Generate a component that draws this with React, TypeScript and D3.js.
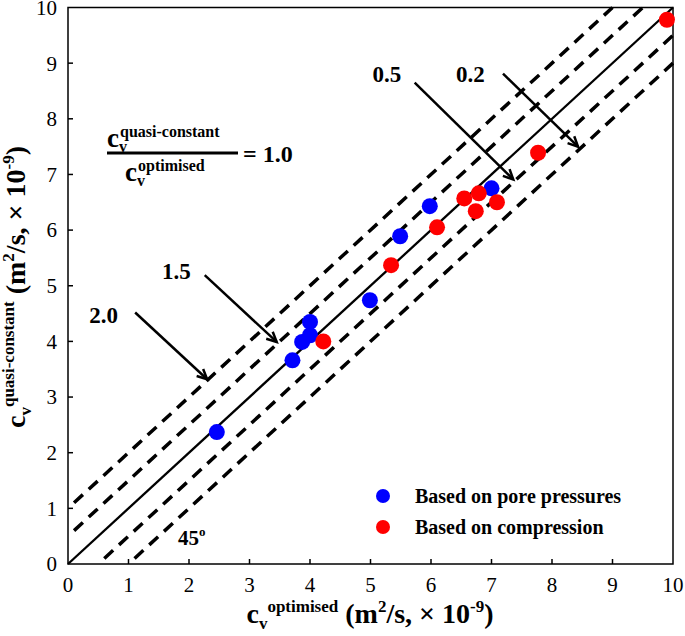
import React from 'react';
import * as d3 from 'd3';

const X_TICKS = [0, 1, 2, 3, 4, 5, 6, 7, 8, 9, 10];
const Y_TICKS = [0, 1, 2, 3, 4, 5, 6, 7, 8, 9, 10];

const PORE_X = [2.46, 3.71, 3.87, 4.0, 4.0, 4.99, 5.49, 5.98, 7.0];
const PORE_Y = [2.37, 3.66, 3.99, 4.11, 4.35, 4.74, 5.89, 6.43, 6.75];

const COMP_X = [4.22, 5.34, 6.1, 6.55, 6.74, 6.79, 7.09, 7.77, 9.9];
const COMP_Y = [4.0, 5.37, 6.05, 6.57, 6.34, 6.66, 6.5, 7.39, 9.78];

const GUIDE_OFFSETS = [1, 0.5, -0.5, -1];

const ARROW_LABELS = ['2.0', '1.5', '0.5', '0.2'];
const ARROW_X0 = [1.11, 2.26, 5.73, 7.19];
const ARROW_Y0 = [4.52, 5.19, 8.65, 8.81];
const ARROW_X1 = [2.3, 3.45, 7.36, 8.43];
const ARROW_Y1 = [3.32, 3.99, 6.91, 7.5];
const LABEL_X = [0.59, 1.79, 5.27, 6.65];
const LABEL_Y = [4.33, 5.13, 8.67, 8.67];

const LEGEND = ['Based on pore pressures', 'Based on compression'];
const COLORS = ['#0000ff', '#ff0000'];

const SERIF = "'Liberation Serif', 'Times New Roman', Times, serif";

export default function App() {
  const W = 685;
  const H = 636;
  const x = d3.scaleLinear().domain([0, 10]).range([68, 673]);
  const y = d3.scaleLinear().domain([0, 10]).range([564, 7.5]);

  const line = d3
    .line<[number, number]>()
    .x((d) => x(d[0]))
    .y((d) => y(d[1]));

  const guides = GUIDE_OFFSETS.map((off) => {
    const x0 = off > 0 ? 0.1 : 0.1 - off;
    const x1 = off > 0 ? 10 - off : 10;
    return line([
      [x0, x0 + off],
      [x1, x1 + off],
    ]) as string;
  });

  const arrows = ARROW_LABELS.map((lab, i) => {
    const px0 = x(ARROW_X0[i]);
    const py0 = y(ARROW_Y0[i]);
    const px1 = x(ARROW_X1[i]);
    const py1 = y(ARROW_Y1[i]);
    const a = Math.atan2(py1 - py0, px1 - px0);
    const L = 11;
    const s = 0.45;
    const h1 = [px1 - L * Math.cos(a - s), py1 - L * Math.sin(a - s)];
    const h2 = [px1 - L * Math.cos(a + s), py1 - L * Math.sin(a + s)];
    return { lab, px0, py0, px1, py1, h1, h2, lx: x(LABEL_X[i]), ly: y(LABEL_Y[i]) };
  });

  return (
    <svg
      width={W}
      height={H}
      style={{ position: 'absolute', left: 0, top: 0, background: '#fff', fontFamily: SERIF }}
    >
      <rect x={0} y={0} width={W} height={H} fill="#fff" />
      {guides.map((d, i) => (
        <path
          key={'g' + i}
          d={d}
          fill="none"
          stroke="#000"
          strokeWidth={3.5}
          strokeDasharray="12 8"
        />
      ))}
      <path
        d={line([
          [0, 0],
          [10, 10],
        ]) as string}
        fill="none"
        stroke="#000"
        strokeWidth={2.3}
      />
      <rect
        x={x(0)}
        y={y(10)}
        width={x(10) - x(0)}
        height={y(0) - y(10)}
        fill="none"
        stroke="#000"
        strokeWidth={1.5}
      />
      {X_TICKS.map((t) => (
        <g key={'xt' + t}>
          {t > 0 && t < 10 && (
            <line x1={x(t)} x2={x(t)} y1={y(0)} y2={y(0) - 5} stroke="#000" strokeWidth={1.5} />
          )}
          <text x={x(t)} y={592} textAnchor="middle" fontSize={21}>
            {t}
          </text>
        </g>
      ))}
      {Y_TICKS.map((t) => (
        <g key={'yt' + t}>
          {t > 0 && t < 10 && (
            <line x1={x(0)} x2={x(0) + 5} y1={y(t)} y2={y(t)} stroke="#000" strokeWidth={1.5} />
          )}
          <text x={57} y={y(t)} dy="0.35em" textAnchor="end" fontSize={21}>
            {t}
          </text>
        </g>
      ))}
      {arrows.map((a, i) => (
        <g key={'a' + i}>
          <line x1={a.px0} y1={a.py0} x2={a.px1} y2={a.py1} stroke="#000" strokeWidth={2.5} />
          <polyline
            points={`${a.h1[0]},${a.h1[1]} ${a.px1},${a.py1} ${a.h2[0]},${a.h2[1]}`}
            fill="none"
            stroke="#000"
            strokeWidth={2.5}
          />
          <text x={a.lx} y={a.ly} textAnchor="middle" fontSize={23} fontWeight="bold">
            {a.lab}
          </text>
        </g>
      ))}
      {PORE_X.map((v, i) => (
        <circle key={'p' + i} cx={x(v)} cy={y(PORE_Y[i])} r={8} fill={COLORS[0]} />
      ))}
      {COMP_X.map((v, i) => (
        <circle key={'c' + i} cx={x(v)} cy={y(COMP_Y[i])} r={8} fill={COLORS[1]} />
      ))}
      <g fontWeight="bold">
        <text x={107} y={147} fontSize={27}>
          <tspan>c</tspan>
          <tspan fontSize={16} dy={5}>v</tspan>
          <tspan fontSize={16} dy={-15} dx={-7}>quasi-constant</tspan>
        </text>
        <line x1={107} x2={238} y1={153} y2={153} stroke="#000" strokeWidth={3} />
        <text x={243} y={162} fontSize={24}>
          = 1.0
        </text>
        <text x={125} y={181} fontSize={27}>
          <tspan>c</tspan>
          <tspan fontSize={16} dy={5}>v</tspan>
          <tspan fontSize={16} dy={-15} dx={-7}>optimised</tspan>
        </text>
        <text x={178} y={545} fontSize={21}>
          <tspan>45</tspan>
          <tspan fontSize={13} dy={-9}>o</tspan>
        </text>
      </g>
      {LEGEND.map((lab, i) => (
        <g key={'l' + i}>
          <circle cx={383} cy={496 + i * 31} r={7} fill={COLORS[i]} />
          <text x={415} y={503 + i * 31} fontSize={20} fontWeight="bold">
            {lab}
          </text>
        </g>
      ))}
      <text x={370} y={623} textAnchor="middle" fontSize={28} fontWeight="bold">
        <tspan>c</tspan>
        <tspan fontSize={17} dy={6}>v</tspan>
        <tspan fontSize={17} dy={-17}>optimised</tspan>
        <tspan dy={11}> (m</tspan>
        <tspan fontSize={17} dy={-11}>2</tspan>
        <tspan dy={11}>/s, × 10</tspan>
        <tspan fontSize={17} dy={-11}>-9</tspan>
        <tspan dy={11}>)</tspan>
      </text>
      <text
        transform="translate(25,287) rotate(-90)"
        textAnchor="middle"
        fontSize={28}
        fontWeight="bold"
      >
        <tspan>c</tspan>
        <tspan fontSize={17} dy={6}>v</tspan>
        <tspan fontSize={17} dy={-17}>quasi-constant</tspan>
        <tspan dy={11}> (m</tspan>
        <tspan fontSize={17} dy={-11}>2</tspan>
        <tspan dy={11}>/s, × 10</tspan>
        <tspan fontSize={17} dy={-11}>-9</tspan>
        <tspan dy={11}>)</tspan>
      </text>
    </svg>
  );
}
